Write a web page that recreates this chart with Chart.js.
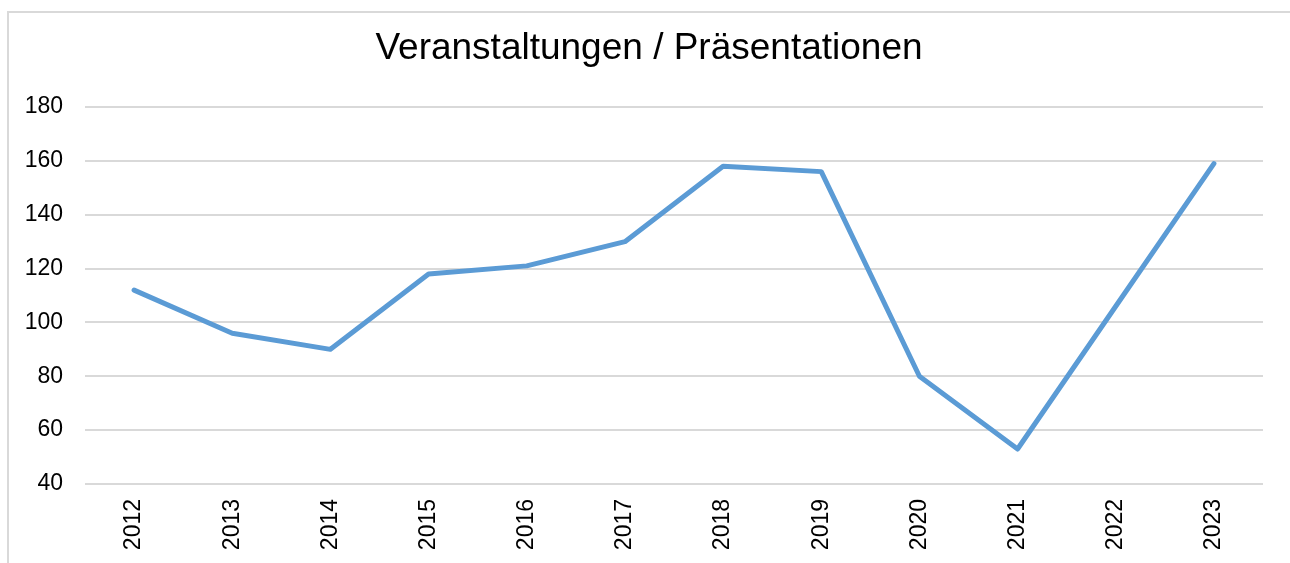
<!DOCTYPE html>
<html>
<head>
<meta charset="utf-8">
<script src="https://cdn.jsdelivr.net/npm/chart.js@4/dist/chart.umd.min.js"></script>
<style>
    html, body { margin: 0; padding: 0; background: #fff; overflow: hidden; }
    #frame {
        position: absolute; left: 7px; top: 11px; width: 1400px; height: 700px;
        border-left: 2px solid #d9d9d9; border-top: 2px solid #d9d9d9;
    }
    #wrap { position: absolute; left: 0; top: 0; width: 1298px; height: 563px; }
</style>
</head>
<body>
<div id="frame"></div>
<div id="wrap"><canvas id="lineChart"></canvas></div>
<script>
var years = ['2012', '2013', '2014', '2015', '2016', '2017', '2018', '2019', '2020', '2021', '2022', '2023'];
var events = [112, 96, 90, 118, 121, 130, 158, 156, 80, 53, 106, 159];
var chartTitle = 'Veranstaltungen / Präsentationen';
var yMin = 40;
var yMax = 180;
var yStep = 20;

Chart.defaults.font.family = "'Liberation Sans', Arial, sans-serif";
Chart.defaults.color = '#000';

var ctx = document.getElementById('lineChart').getContext('2d');

new Chart(ctx, {
    type: 'line',
    data: {
        labels: years,
        datasets: [
            {
                data: events,
                borderColor: '#5b9bd5',
                borderWidth: 5,
                pointRadius: 0,
                tension: 0,
                borderJoinStyle: 'round',
                borderCapStyle: 'round',
                fill: false,
            }
        ]
    },
    options: {
        responsive: true,
        maintainAspectRatio: false,
        animation: false,
        layout: {
            padding: { left: 0, right: 0, top: 0, bottom: 0 }
        },
        plugins: {
            legend: { display: false },
            tooltip: { enabled: false },
            title: {
                display: true,
                text: chartTitle,
                color: '#000',
                font: { size: 37, weight: 'normal' },
                padding: { top: 27, bottom: 35.6 },
            }
        },
        scales: {
            x: {
                offset: true,
                grid: { display: false },
                border: { display: false },
                ticks: {
                    minRotation: 90,
                    maxRotation: 90,
                    padding: 7,
                    font: { size: 23 },
                },
                afterFit: function (scale) { scale.height = 79; }
            },
            y: {
                min: yMin,
                max: yMax,
                grid: { color: '#d9d9d9', lineWidth: 2, drawTicks: false },
                border: { display: false },
                ticks: {
                    stepSize: yStep,
                    padding: 22,
                    font: { size: 23 },
                },
                afterFit: function (scale) { scale.width = 85; }
            },
            // empty right-hand margin so the title sits over the whole frame
            gutter: {
                position: 'right',
                grid: { display: false },
                border: { display: false },
                ticks: { display: false },
                afterFit: function (scale) { scale.width = 35; }
            }
        }
    }
});
</script>
</body>
</html>
